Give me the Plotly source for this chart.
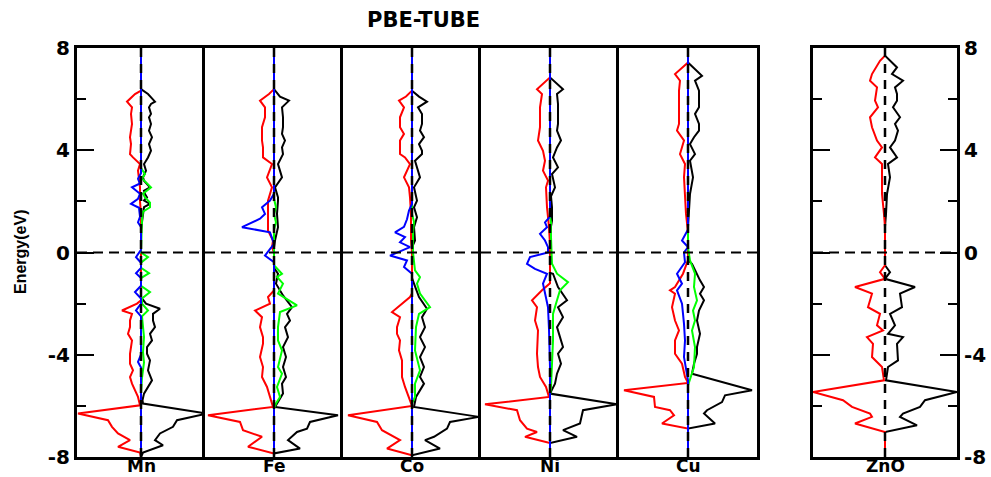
import plotly.graph_objects as go

# Spin-resolved density of states (states/eV) versus energy (eV), E_F = 0.
# Each curve is a list of (energy, dos) pairs; spin-down values are negative.
PANELS = ["Mn", "Fe", "Co", "Ni", "Cu"]

MN_UP = [(8, 0), (6.39, 0), (6.20, 0.7), (5.90, 1.4), (5.81, 1.0), (5.68, 0.8), (5.42, 1.0), (5.29, 0.8),
         (5.03, 1.0), (4.77, 0.8), (4.51, 1.1), (4.24, 0.8), (3.98, 1.0), (3.72, 0.7), (3.46, 0.3),
         (3.20, 0.5), (2.94, 0.2), (2.81, 0.3), (2.55, 0.9), (2.42, 0.3), (2.29, 0.4), (2.16, 0.6),
         (2.03, 0.3), (1.90, 0.9), (1.77, 0.3), (1.51, 0.2), (1.25, 0.1), (0.9, 0), (-1.75, 0),
         (-2.0, 0.5), (-2.20, 1.9), (-2.40, 1.2), (-2.66, 1.2), (-2.92, 1.4), (-3.18, 0.9), (-3.44, 1.1),
         (-3.70, 0.6), (-3.96, 0.6), (-4.22, 0.9), (-4.61, 0.7), (-5.0, 1.1), (-5.26, 0.7), (-5.52, 0.3),
         (-5.78, 0.15), (-5.91, 0.2), (-6.30, 6.6), (-6.56, 3.6), (-6.82, 3.2), (-7.08, 1.9), (-7.34, 1.4),
         (-7.54, 2.2), (-7.83, 0.2), (-8, 0)]
MN_DN = [(8, 0), (6.33, 0), (6.20, -0.6), (5.90, -1.4), (5.68, -0.9), (5.42, -1.0), (5.03, -0.9),
         (4.77, -1.0), (4.51, -1.1), (4.24, -1.0), (3.85, -1.1), (3.72, -0.8), (3.46, -0.1), (3.20, -0.3),
         (2.94, -0.2), (2.55, -0.1), (2.0, -0.1), (1.5, 0), (-1.87, 0), (-2.0, -0.4), (-2.27, -1.9),
         (-2.40, -0.9), (-2.66, -1.1), (-2.92, -1.1), (-3.18, -1.3), (-3.44, -0.9), (-3.96, -1.1),
         (-4.35, -1.1), (-4.61, -0.8), (-4.87, -1.1), (-5.13, -0.9), (-5.65, -0.3), (-5.98, -0.1),
         (-6.30, -6.3), (-6.56, -3.3), (-6.82, -2.9), (-7.08, -2.3), (-7.34, -1.1), (-7.60, -2.3),
         (-7.83, -0.1), (-8, 0)]
MN_D_UP = [(8, 0), (3.3, 0), (3.07, 0.4), (2.90, 0.1), (2.55, 1.0), (2.3, 0.2), (2.16, 0.4), (1.95, 0.9),
           (1.77, 0.9), (1.6, 0.2), (1.3, 0.1), (0.5, 0), (0.0, 0), (-0.18, 0.7), (-0.4, 0), (-0.6, 0),
           (-0.81, 0.8), (-1.0, 0), (-1.3, 0), (-1.55, 0.9), (-1.8, 0.1), (-2.0, 0.1), (-2.27, 0.7),
           (-2.5, 0.1), (-3.31, 0.3), (-3.9, 0.2), (-4.3, 0.3), (-4.9, 0.1), (-5.5, 0), (-8, 0)]
MN_D_DN = [(8, 0), (3.1, 0), (2.88, -0.3), (2.7, -0.1), (2.55, -0.9), (2.3, -0.1), (2.1, -0.3),
           (1.90, -1.0), (1.75, -0.2), (1.4, -0.1), (1.18, -0.3), (1.0, 0), (0.1, 0), (-0.18, -0.5),
           (-0.4, 0), (-0.6, 0), (-0.81, -0.5), (-1.0, 0), (-1.3, 0), (-1.55, -0.6), (-1.8, 0), (-2.0, 0),
           (-2.27, -0.5), (-2.5, 0), (-4.0, 0), (-4.28, -0.3), (-4.5, 0), (-8, 0)]

FE_UP = [(8, 0), (6.39, 0), (6.1, 0.6), (5.94, 1.5), (5.68, 0.8), (5.29, 0.9), (4.90, 0.9), (4.64, 0.8),
         (4.38, 1.1), (4.11, 0.8), (3.85, 0.9), (3.46, 0.4), (2.94, 0.8), (2.55, 0.1), (2.16, 0.4),
         (2.03, 0.4), (1.51, 0.3), (0.99, 0.4), (0.47, 0.1), (0.2, 0), (-0.6, 0), (-0.83, 0.4),
         (-1.22, 0.2), (-1.68, 0.9), (-2.14, 1.8), (-2.40, 1.3), (-2.66, 1.6), (-2.92, 1.1), (-3.31, 1.4),
         (-3.70, 0.9), (-4.09, 1.2), (-4.48, 0.9), (-4.87, 1.2), (-5.13, 0.8), (-5.52, 0.9), (-5.91, 0.3),
         (-6.04, 0.1), (-6.37, 6.4), (-6.63, 3.6), (-6.89, 3.3), (-7.02, 2.3), (-7.34, 1.4), (-7.67, 2.6),
         (-7.86, 0), (-8, 0)]
FE_DN = [(8, 0), (6.39, 0), (6.2, -0.5), (5.94, -1.4), (5.68, -0.9), (5.29, -0.9), (4.90, -1.2),
         (4.38, -1.2), (4.11, -1.1), (3.72, -1.1), (3.46, -0.2), (2.94, -0.7), (2.55, -0.2), (2.03, -0.6),
         (1.5, -0.6), (0.86, -0.6), (0.47, -0.1), (0.2, -0.2), (0, 0), (-1.48, 0), (-1.74, -0.6),
         (-2.0, -0.4), (-2.27, -1.9), (-2.53, -1.2), (-2.92, -1.4), (-3.31, -1.1), (-3.57, -1.1),
         (-4.09, -1.4), (-4.48, -1.1), (-4.87, -1.2), (-5.26, -0.7), (-5.65, -0.4), (-6.04, -0.1),
         (-6.37, -6.6), (-6.63, -3.4), (-6.95, -3.1), (-7.08, -2.1), (-7.21, -1.2), (-7.60, -2.6),
         (-7.86, 0), (-8, 0)]
FE_D_UP = [(8, 0), (2.1, 0), (1.77, 0.2), (1.5, 0), (1.18, 0.2), (0.9, 0), (-0.5, 0), (-0.83, 0.8),
           (-0.96, 0.3), (-1.22, 0.9), (-1.61, 0.4), (-2.07, 2.3), (-2.33, 0.6), (-2.92, 0.4),
           (-3.44, 0.4), (-3.83, 0.8), (-4.48, 0.4), (-4.74, 0.8), (-5.26, 0.3), (-5.65, 0.6),
           (-5.91, 0.2), (-6.1, 0), (-8, 0)]
FE_D_DN = [(8, 0), (2.3, 0), (2.03, -0.4), (1.77, -1.2), (1.51, -0.9), (1.32, -1.4), (0.99, -3.2),
           (0.79, -0.4), (0.34, 0), (-0.12, -0.9), (-0.38, 0), (-8, 0)]

CO_UP = [(8, 0), (6.33, 0), (6.1, 0.7), (5.90, 1.5), (5.68, 0.6), (5.42, 1.0), (5.03, 1.0), (4.77, 0.8),
         (4.51, 1.2), (4.24, 0.7), (3.98, 1.0), (3.85, 1.0), (3.59, 0.3), (3.33, 0.5), (2.94, 0.8),
         (2.55, 0.2), (2.03, 0.5), (1.77, 0.2), (1.38, 0.5), (0.99, 0.2), (0.47, 0.3), (0.2, 0), (-1.0, 0),
         (-1.22, 0.2), (-1.74, 0.7), (-2.20, 1.5), (-2.53, 1.0), (-2.92, 1.3), (-3.31, 0.8), (-3.70, 1.3),
         (-4.09, 0.8), (-4.48, 1.2), (-4.87, 0.8), (-5.13, 1.2), (-5.65, 0.4), (-6.04, 0.2), (-6.43, 6.7),
         (-6.63, 3.8), (-6.89, 3.5), (-7.21, 2.2), (-7.34, 1.3), (-7.67, 2.8), (-7.93, 0), (-8, 0)]
CO_DN = [(8, 0), (6.33, 0), (6.1, -0.6), (5.94, -1.3), (5.68, -0.8), (5.29, -1.2), (4.90, -1.2),
         (4.64, -0.8), (4.38, -1.2), (3.85, -1.2), (3.72, -0.7), (3.46, -0.2), (2.94, -0.8), (2.55, -0.3),
         (2.16, -0.2), (1.5, -0.1), (0.5, -0.1), (0, 0), (-1.6, 0), (-1.74, -0.2), (-2.33, -2.0),
         (-2.53, -1.2), (-2.92, -1.5), (-3.18, -1.5), (-3.44, -1.2), (-3.83, -1.3), (-4.22, -1.0),
         (-4.87, -1.0), (-5.26, -0.7), (-5.78, -0.2), (-6.0, 0), (-6.37, -6.4), (-6.63, -3.5),
         (-6.95, -3.0), (-7.21, -1.7), (-7.34, -1.2), (-7.67, -2.5), (-7.93, 0), (-8, 0)]
CO_D_UP = [(8, 0), (1.5, 0), (1.2, 0.2), (0.8, 0.1), (0, 0.1), (-0.70, 0.3), (-0.96, 0.8), (-1.22, 0.5),
           (-1.61, 0.8), (-2.14, 1.8), (-2.40, 0.7), (-2.92, 0.4), (-3.83, 0.3), (-4.61, 0.8),
           (-5.13, 0.3), (-5.65, 0.3), (-5.9, 0), (-8, 0)]
CO_D_DN = [(8, 0), (1.9, 0), (1.64, -0.3), (1.3, -0.5), (1.0, -0.8), (0.79, -1.7), (0.60, -0.7),
           (0.40, -1.2), (0.21, -0.2), (-0.12, -2.2), (-0.31, -0.5), (-0.57, -0.8), (-0.83, 0), (-8, 0)]

NI_UP = [(8, 0), (6.85, 0), (6.39, 1.3), (6.20, 0.7), (5.81, 0.8), (5.42, 0.8), (5.03, 0.8), (4.77, 0.7),
         (4.38, 1.1), (4.11, 0.7), (3.72, 0.3), (3.33, 0.8), (3.07, 0.2), (2.55, 0.5), (2.2, 0.1),
         (1.77, 0.2), (1.25, 0.2), (0.8, 0), (-0.8, 0), (-0.83, 0.3), (-1.35, 0.8), (-1.87, 1.7),
         (-2.14, 0.8), (-2.53, 1.3), (-2.92, 0.7), (-3.31, 1.0), (-3.70, 1.3), (-3.96, 0.8), (-4.35, 1.1),
         (-4.74, 0.7), (-5.13, 0.5), (-5.52, 0), (-5.94, 6.7), (-6.17, 3.3), (-6.69, 3.0), (-6.95, 1.3),
         (-7.21, 2.7), (-7.45, 0), (-8, 0)]
NI_DN = [(8, 0), (6.85, 0), (6.39, -1.3), (6.20, -0.8), (5.68, -1.0), (4.90, -1.0), (4.38, -1.2),
         (3.98, -0.7), (3.59, -0.5), (3.20, -0.7), (2.81, -0.2), (2.55, -0.4), (1.77, -0.3), (1.0, -0.1),
         (0.3, 0), (-1.2, 0), (-1.48, -0.8), (-1.87, -1.8), (-2.14, -1.3), (-2.66, -1.5), (-3.05, -1.2),
         (-3.57, -1.3), (-3.96, -1.3), (-4.48, -1.2), (-4.87, -1.0), (-5.26, -0.4), (-5.65, -0.1),
         (-5.94, -6.5), (-6.17, -3.3), (-6.56, -3.0), (-6.89, -2.3), (-7.02, -1.3), (-7.21, -2.5),
         (-7.45, 0), (-8, 0)]
NI_D_UP = [(8, 0), (1.4, 0), (1.18, 0.1), (0.6, 0.1), (-0.44, 0.2), (-0.83, 0.7), (-1.16, 1.8),
           (-1.48, 1.0), (-1.87, 0.7), (-2.40, 0.3), (-3.44, 0.3), (-4.74, 0.2), (-5.26, 0.1), (-5.6, 0),
           (-8, 0)]
NI_D_DN = [(8, 0), (1.4, 0), (1.18, -0.5), (0.99, -0.3), (0.73, -1.0), (0.47, -0.5), (0.21, -0.2),
           (0.0, -0.2), (-0.18, -2.0), (-0.44, -2.3), (-0.64, -1.5), (-0.83, -0.3), (-1.22, -0.7),
           (-2.14, -0.2), (-3.0, -0.1), (-4.5, 0), (-8, 0)]

CU_UP = [(8, 0), (7.43, 0), (6.91, 1.4), (6.72, 0.7), (6.33, 1.1), (5.68, 1.1), (5.42, 0.7), (5.03, 1.1),
         (4.77, 1.1), (4.51, 0.6), (4.24, 0.2), (3.85, 0.7), (3.59, 0.2), (2.94, 0.5), (2.29, 0.2),
         (1.51, 0.1), (1.0, 0), (-0.3, 0), (-0.44, 0.4), (-1.09, 1.2), (-1.35, 1.6), (-1.61, 1.2),
         (-1.87, 1.6), (-2.27, 1.1), (-2.66, 0.9), (-3.18, 1.2), (-3.70, 0.9), (-3.96, 0.9), (-4.35, 0.6),
         (-4.74, 0.4), (-5.39, 6.4), (-5.59, 3.7), (-5.85, 3.4), (-6.17, 1.9), (-6.30, 1.6), (-6.69, 2.7),
         (-6.89, 0), (-8, 0)]
CU_DN = [(8, 0), (7.43, 0), (6.98, -1.3), (6.72, -0.8), (6.33, -0.9), (5.03, -0.9), (4.77, -1.1),
         (4.38, -0.4), (3.85, -0.8), (3.46, -0.3), (2.94, -0.4), (2.29, -0.3), (1.51, -0.2), (0.8, 0),
         (-0.3, 0), (-0.83, -0.5), (-1.35, -1.3), (-1.48, -1.8), (-1.61, -1.3), (-2.14, -1.6),
         (-2.66, -1.3), (-3.05, -0.9), (-3.44, -1.3), (-3.96, -1.3), (-4.35, -0.6), (-4.87, -0.3),
         (-5.1, 0), (-5.39, -6.4), (-5.65, -3.4), (-6.04, -3.3), (-6.17, -1.8), (-6.37, -1.4),
         (-6.69, -2.6), (-6.89, 0), (-8, 0)]
CU_D_UP = [(8, 0), (0.2, 0), (-0.31, 0.2), (-0.83, 0.7), (-1.35, 0.6), (-1.87, 0.9), (-2.27, 0.5),
           (-2.66, 0.7), (-3.05, 0.4), (-3.70, 0.7), (-4.48, 0.6), (-5.0, 0.2), (-5.2, 0), (-8, 0)]
CU_D_DN = [(8, 0), (0.9, 0), (0.47, -0.6), (0.21, 0), (0, -0.4), (-0.38, -0.3), (-0.83, -1.1),
           (-1.22, -0.6), (-1.48, -1.1), (-2.0, -0.6), (-2.79, -0.4), (-3.44, -0.3), (-4.09, -0.4),
           (-4.74, -0.1), (-5.0, 0), (-8, 0)]

ZNO_UP = [(8, 0), (7.70, 0), (7.24, 1.2), (6.98, 0.7), (6.72, 1.8), (6.46, 1.0), (6.20, 1.2), (5.94, 1.2),
          (5.68, 0.8), (5.29, 1.5), (5.03, 1.0), (4.77, 1.3), (4.38, 1.0), (4.11, 0.5), (3.72, 1.2),
          (3.46, 0.3), (2.94, 0.5), (2.29, 0.2), (1.51, 0.1), (1.0, 0), (-0.5, 0), (-0.77, 0.5),
          (-1.03, 0), (-1.35, 3.0), (-1.61, 1.5), (-2.14, 1.7), (-2.40, 0.5), (-2.85, 1.0), (-3.18, 0.3),
          (-3.31, 1.8), (-3.57, 1.2), (-4.22, 1.3), (-4.48, 0.3), (-4.74, 0.2), (-5.0, 0.1), (-5.46, 7.2),
          (-5.78, 4.0), (-6.04, 3.5), (-6.30, 1.8), (-6.43, 1.5), (-6.76, 3.2), (-7.02, 0), (-8, 0)]
ZNO_DN = [(8, 0), (7.70, 0), (7.50, -0.5), (6.98, -1.3), (6.72, -1.5), (6.46, -0.8), (5.94, -1.0),
          (5.68, -0.7), (5.29, -1.5), (4.90, -1.3), (4.38, -0.8), (4.11, -0.3), (3.72, -1.0),
          (3.46, -0.3), (2.94, -0.3), (2.29, -0.3), (1.5, -0.1), (1.0, 0), (-0.5, 0), (-0.77, -0.5),
          (-1.03, 0), (-1.35, -3.0), (-1.61, -1.3), (-2.14, -1.7), (-2.40, -0.5), (-2.85, -0.8),
          (-3.05, -0.2), (-3.31, -1.8), (-3.57, -1.2), (-4.09, -1.3), (-4.48, -0.3), (-5.0, -0.1),
          (-5.46, -7.2), (-5.78, -4.2), (-6.04, -3.3), (-6.30, -1.5), (-6.43, -1.3), (-6.69, -3.0),
          (-7.02, 0), (-8, 0)]

TICK_VALS = [-8, -4, 0, 4, 8]
TICK_TEXT = ["-8", "-4", "0", "4", "8"]
MINOR_VALS = [-6, -2, 2, 6]

# ---- figure geometry (pixels) ----
W, H = 991, 477
PLOT_TOP, PLOT_BOTTOM = 48, 457
PANEL_EDGES = [(77, 205), (205, 343), (343, 481), (481, 619), (619, 757), (813, 957)]
PX_PER_UNIT = 10.0

TM_CURVES = [
    (MN_UP, MN_DN, MN_D_UP, MN_D_DN),
    (FE_UP, FE_DN, FE_D_UP, FE_D_DN),
    (CO_UP, CO_DN, CO_D_UP, CO_D_DN),
    (NI_UP, NI_DN, NI_D_UP, NI_D_DN),
    (CU_UP, CU_DN, CU_D_UP, CU_D_DN),
]

RED, BLACK, GREEN, BLUE = "#ff0000", "#000000", "#00ff00", "#0000ff"
LW = 2.0
FONT = "DejaVu Sans, Verdana, sans-serif"


def split(pairs):
    e = [p[0] for p in pairs]
    d = [p[1] for p in pairs]
    return d, e


fig = go.Figure()
ydom = [1 - PLOT_BOTTOM / H, 1 - PLOT_TOP / H]


def add_curve(i, pairs, color):
    x, y = split(pairs)
    fig.add_trace(go.Scatter(x=x, y=y, mode="lines", line=dict(color=color, width=LW),
                             xaxis=f"x{i}", yaxis=f"y{i}", showlegend=False, hoverinfo="skip"))


def add_guides(i, half):
    # Fermi level and the zero-DOS axis, both dashed
    fig.add_trace(go.Scatter(x=[-half, half], y=[0, 0], mode="lines",
                             line=dict(color=BLACK, width=2, dash="10px,6px"),
                             xaxis=f"x{i}", yaxis=f"y{i}", showlegend=False, hoverinfo="skip"))
    fig.add_trace(go.Scatter(x=[0, 0], y=[-8, 8], mode="lines",
                             line=dict(color=BLACK, width=2.5, dash="9px,7px"),
                             xaxis=f"x{i}", yaxis=f"y{i}", showlegend=False, hoverinfo="skip"))


layout = dict(width=W, height=H, autosize=False, margin=dict(l=0, r=0, t=0, b=0, pad=0),
              paper_bgcolor="white", plot_bgcolor="white", showlegend=False)

labels = PANELS + ["ZnO"]
for k, (x0, x1) in enumerate(PANEL_EDGES):
    i = k + 1
    half = (x1 - x0) / 2 / PX_PER_UNIT
    if k < 5:
        up, dn, dup, ddn = TM_CURVES[k]
        add_curve(i, up, BLACK)
        add_curve(i, dn, RED)
        add_curve(i, dup, GREEN)
        add_curve(i, ddn, BLUE)
    else:
        add_curve(i, ZNO_UP, BLACK)
        add_curve(i, ZNO_DN, RED)
    add_guides(i, half)

    xa = dict(domain=[x0 / W, x1 / W], range=[-half, half], anchor=f"y{i}", automargin=False,
              showline=True, linecolor=BLACK, linewidth=3, mirror=True,
              showgrid=False, zeroline=False, showticklabels=False, ticks="")
    # adjacent panels share one border: each draws its left edge, the last of a group also its right
    last_in_group = k in (4, 5)
    ya = dict(domain=ydom, range=[-8, 8], anchor=f"x{i}", automargin=False,
              showline=True, linecolor=BLACK, linewidth=3, mirror=last_in_group,
              showgrid=False, zeroline=False)
    tick_common = dict(ticks="inside", ticklen=17, tickwidth=2, tickcolor=BLACK,
                       tickmode="array", tickvals=TICK_VALS,
                       ticktext=[f"<b>{t}</b>" for t in TICK_TEXT],
                       tickfont=dict(family=FONT, size=20, color=BLACK),
                       minor=dict(tickmode="array", tickvals=MINOR_VALS, ticks="inside",
                                  ticklen=9, tickwidth=2, tickcolor=BLACK))
    if k == 0:
        ya.update(side="left", **tick_common)
    elif k == 5:
        ya.update(side="right", **tick_common)
        ya["mirror"] = "ticks"
    else:
        ya.update(ticks="", showticklabels=False)
    layout[f"xaxis{i if i > 1 else ''}"] = xa
    layout[f"yaxis{i if i > 1 else ''}"] = ya

fig.update_layout(**layout)

annotations = [
    dict(text="<b>PBE-TUBE</b>", x=423 / W, y=1 - 20 / H, xref="paper", yref="paper",
         xanchor="center", yanchor="middle", showarrow=False,
         font=dict(family=FONT, size=21, color=BLACK)),
    dict(text="<b>Energy(eV)</b>", x=20 / W, y=1 - 252 / H, xref="paper", yref="paper",
         xanchor="center", yanchor="middle", showarrow=False, textangle=-90,
         font=dict(family="Liberation Sans Narrow, Liberation Sans, sans-serif", size=16, color=BLACK)),
]
for k, (x0, x1) in enumerate(PANEL_EDGES):
    annotations.append(dict(text=f"<b>{labels[k]}</b>", x=(x0 + x1) / 2 / W, y=1 - 466 / H,
                            xref="paper", yref="paper", xanchor="center", yanchor="middle",
                            showarrow=False, font=dict(family=FONT, size=17, color=BLACK)))
fig.update_layout(annotations=annotations)

fig.write_html("out.html")
